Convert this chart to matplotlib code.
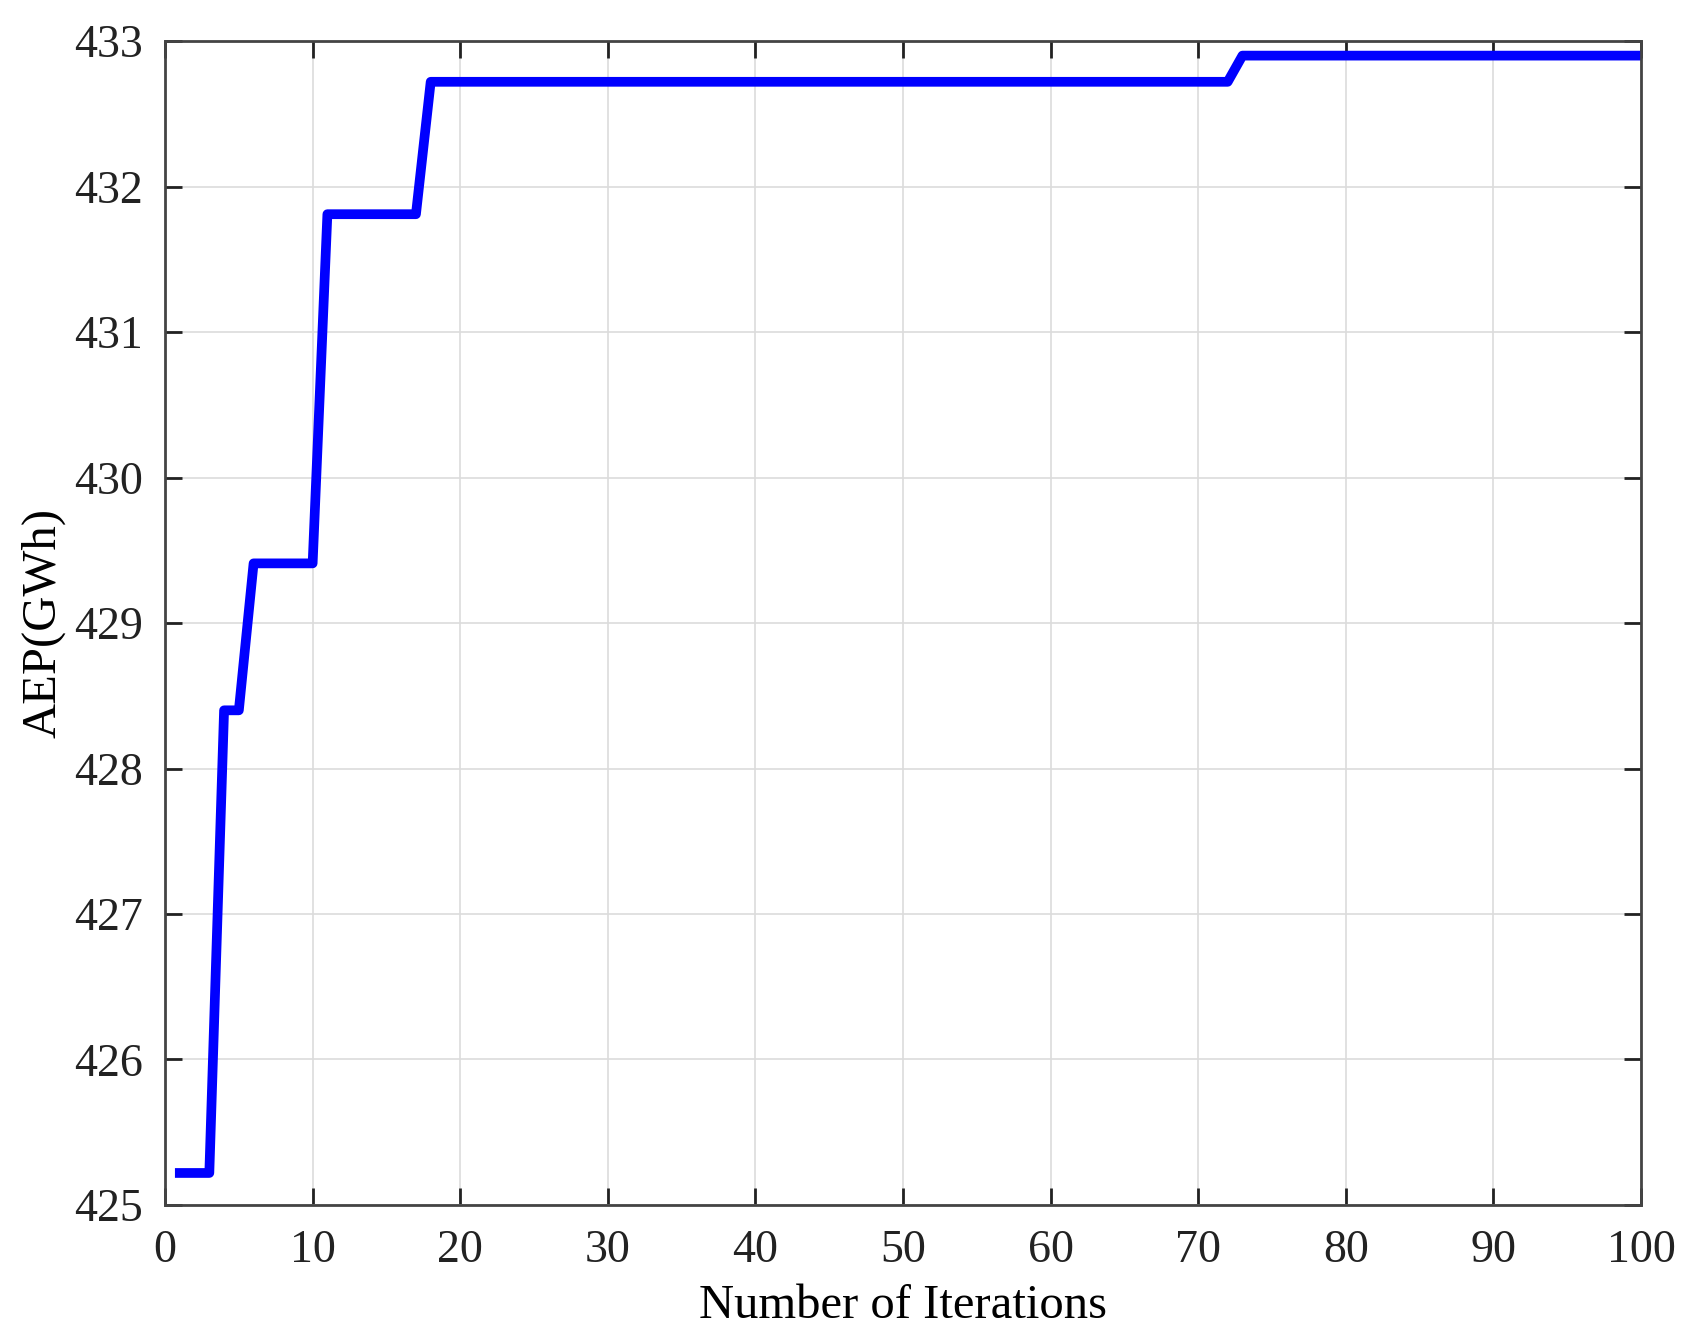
import matplotlib.pyplot as plt
import numpy as np

# AEP per iteration
iterations = np.arange(1, 101)
step_starts = [1, 4, 6, 11, 18, 73]
step_values = [425.22, 428.40, 429.41, 431.81, 432.72, 432.90]

aep = np.zeros(len(iterations))
for s, v in zip(step_starts, step_values):
    aep[iterations >= s] = v

plt.rcParams['font.family'] = ['Liberation Serif', 'DejaVu Serif']

fig = plt.figure(figsize=(16.91, 13.42), dpi=100)
ax = fig.add_axes([0.0976, 0.1021, 0.8728, 0.8673])
ax.plot(iterations, aep, color="#0000ff", linewidth=7)

ax.set_xlim(0, 100)
ax.set_ylim(425, 433)
ax.set_xticks(np.arange(0, 101, 10))
ax.set_yticks(np.arange(425, 434, 1))
ax.grid(True, color="#dcdcdc", linewidth=1.2)
ax.set_axisbelow(True)
ax.tick_params(direction="in", length=12, width=2, top=True, right=True,
               labelsize=33, colors="#222222")
ax.tick_params(axis="x", pad=18)
ax.tick_params(axis="y", pad=16)
for sp in ax.spines.values():
    sp.set_linewidth(2)
    sp.set_color("#444444")

ax.set_xlabel("Number of Iterations", fontsize=35, labelpad=8)
ax.set_ylabel("AEP(GWh)", fontsize=35, labelpad=6)

fig.savefig("out.png", dpi=100)
